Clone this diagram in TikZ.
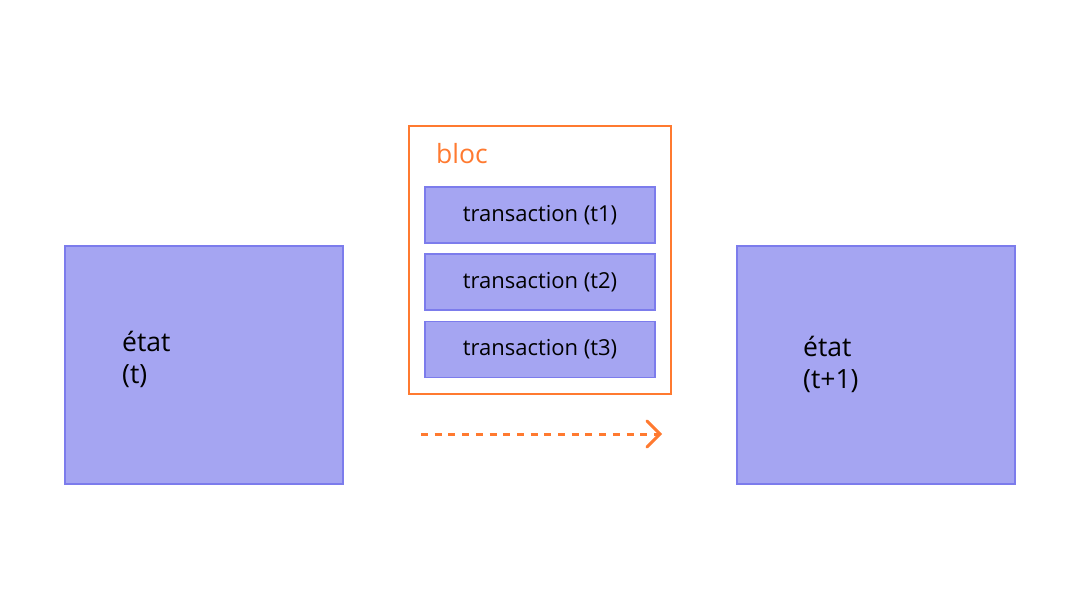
\documentclass[tikz,border=0pt]{standalone}
\usepackage{fontspec}
\setmainfont{Open Sans}
\usetikzlibrary{positioning,calc}
\definecolor{boxfill}{HTML}{A5A5F2}
\definecolor{boxline}{HTML}{7C7CEC}
\definecolor{orng}{HTML}{FF7A30}
\begin{document}
\begin{tikzpicture}[x=1pt,y=-1pt,
  statebox/.style={draw=boxline,fill=boxfill,line width=1.5pt},
  txbox/.style={draw=boxline,fill=boxfill,line width=1.5pt,minimum width=230pt,minimum height=56pt,inner sep=0pt,font=\fontsize{22}{26}\selectfont},
  lbl/.style={anchor=base west,align=left,inner sep=0pt,font=\fontsize{26.5}{32}\selectfont}]
\useasboundingbox (0,0) rectangle (1080,608);
% states
\draw[statebox] (65,246) rectangle (343,484);
\draw[statebox] (737,246) rectangle (1015,484);
\node[lbl] (s1) at (122,383) {état\\(t)};
\node[lbl] (s2) at (803,388) {état\\(t+1)};
% bloc
\draw[draw=orng,line width=1.5pt] (409,126) rectangle (671,394);
\node[anchor=base west,inner sep=0pt,text=orng,font=\fontsize{26.5}{30}\selectfont] (bloc) at (436,163) {bloc};
\node[txbox] (t1) at (540,215) {transaction (t1)};
\node[txbox] (t2) at (540,282) {transaction (t2)};
\node[txbox] (t3) at (540,349.5) {transaction (t3)};
% arrow
\coordinate (a0) at (421,434);
\coordinate (a1) at (660,434);
\draw[orng,line width=3pt,dash pattern=on 7pt off 6.7pt] (a0) -- (a1);
\draw[orng,line width=3pt,line cap=round,line join=miter] ($(a1)+(-13,-13)$) -- (a1) -- ($(a1)+(-13,13)$);
\end{tikzpicture}
\end{document}
